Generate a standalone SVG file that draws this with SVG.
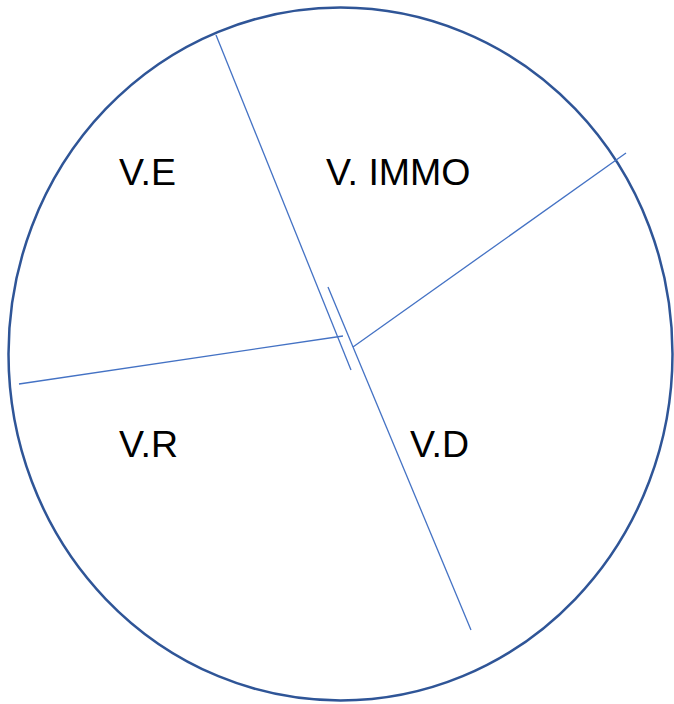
<svg xmlns="http://www.w3.org/2000/svg" width="674" height="704" viewBox="0 0 674 704">
<style>
.ln{stroke:#4472C4;stroke-width:1.3;fill:none}
.lbl{font-family:"Liberation Sans",Arial,sans-serif;font-size:37.5px;fill:#000}
</style>
<rect width="674" height="704" fill="#fff"/>
<g id="circle"><ellipse cx="340.5" cy="354" rx="332" ry="346.5" fill="none" stroke="#2F5597" stroke-width="2.5"/></g>
<g id="connectors">
<line class="ln" x1="216" y1="35" x2="351" y2="370"/>
<line class="ln" x1="328" y1="287" x2="471" y2="630"/>
<line class="ln" x1="19" y1="384" x2="343" y2="336"/>
<line class="ln" x1="353" y1="347" x2="626" y2="153"/>
</g>
<g id="ve"><text class="lbl" x="119" y="185">V.E</text></g>
<g id="vimmo"><text class="lbl" x="326" y="185">V. IMMO</text></g>
<g id="vr"><text class="lbl" x="119" y="457">V.R</text></g>
<g id="vd"><text class="lbl" x="410" y="457">V.D</text></g>
</svg>
